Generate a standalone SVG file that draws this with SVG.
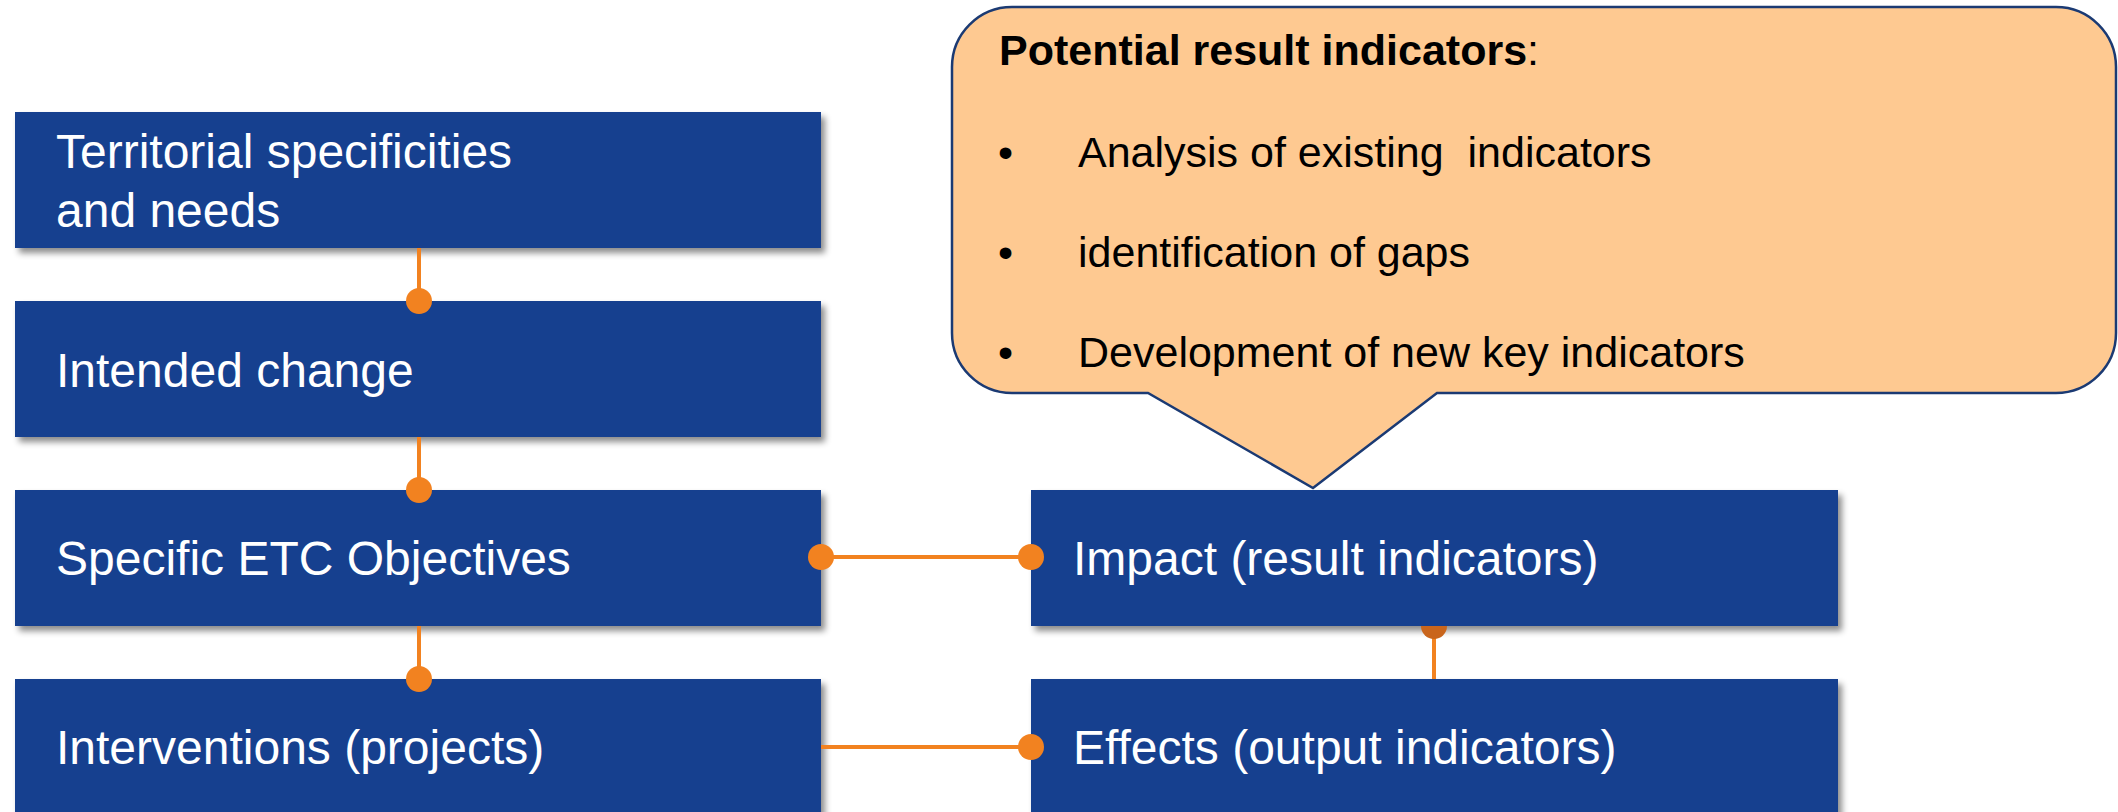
<svg xmlns="http://www.w3.org/2000/svg" width="2118" height="812" viewBox="0 0 2118 812">
  <defs>
    <filter id="shadow" x="-5%" y="-10%" width="115%" height="130%">
      <feDropShadow dx="4" dy="5" stdDeviation="3" flood-color="#000" flood-opacity="0.45"/>
    </filter>
    <style>
      .box { fill: #18408F; filter: url(#shadow); }
      .btxt { font-family: "Liberation Sans", Arial, sans-serif; font-size: 48px; fill: #FFFFFF; }
      .conn { stroke: #F28220; stroke-width: 4; fill: none; }
      .dot { fill: #F28220; }
      .ctxt { font-family: "Liberation Sans", Arial, sans-serif; font-size: 43px; fill: #000000; white-space: pre; }
      .callout { fill: #FEC991; stroke: #1B3A73; stroke-width: 2.5; }
    </style>
  </defs>
  <rect width="2118" height="812" fill="#FFFFFF"/>

  <g id="callout">
    <path class="callout" d="M 1012 7 H 2056 A 60 60 0 0 1 2116 67 V 333 A 60 60 0 0 1 2056 393 H 1437 L 1313 488 L 1148 393 H 1012 A 60 60 0 0 1 952 333 V 67 A 60 60 0 0 1 1012 7 Z"/>
    <text class="ctxt" x="999" y="65" font-size="41"><tspan font-weight="bold">Potential result indicators</tspan>:</text>
    <text class="ctxt" x="998" y="167" font-size="48">•</text>
    <text class="ctxt" x="1078" y="167">Analysis of existing  indicators</text>
    <text class="ctxt" x="998" y="267" font-size="48">•</text>
    <text class="ctxt" x="1078" y="267">identification of gaps</text>
    <text class="ctxt" x="998" y="367" font-size="48">•</text>
    <text class="ctxt" x="1078" y="367">Development of new key indicators</text>
  </g>

  <g id="territorial">
    <rect class="box" x="15" y="112" width="806" height="136"/>
    <text class="btxt" x="56" y="168">Territorial specificities</text>
    <text class="btxt" x="56" y="227">and needs</text>
  </g>
  <g id="intended">
    <rect class="box" x="15" y="301" width="806" height="136"/>
    <text class="btxt" x="56" y="387">Intended change</text>
  </g>
  <g id="objectives">
    <rect class="box" x="15" y="490" width="806" height="136"/>
    <text class="btxt" x="56" y="575">Specific ETC Objectives</text>
  </g>
  <g id="interventions">
    <rect class="box" x="15" y="679" width="806" height="136"/>
    <text class="btxt" x="56" y="764">Interventions (projects)</text>
  </g>
  <g id="impact">
    <rect class="box" x="1031" y="490" width="807" height="136"/>
    <text class="btxt" x="1073" y="575">Impact (result indicators)</text>
  </g>
  <g id="effects">
    <rect class="box" x="1031" y="679" width="807" height="136"/>
    <text class="btxt" x="1073" y="764">Effects (output indicators)</text>
  </g>

  <g id="connectors">
    <line class="conn" x1="419" y1="248" x2="419" y2="301"/>
    <circle class="dot" cx="419" cy="301" r="13"/>
    <line class="conn" x1="419" y1="437" x2="419" y2="490"/>
    <circle class="dot" cx="419" cy="490" r="13"/>
    <line class="conn" x1="419" y1="626" x2="419" y2="679"/>
    <circle class="dot" cx="419" cy="679" r="13"/>
    <line class="conn" x1="821" y1="557" x2="1031" y2="557"/>
    <circle class="dot" cx="821" cy="557" r="13"/>
    <circle class="dot" cx="1031" cy="557" r="13"/>
    <line class="conn" x1="821" y1="747" x2="1031" y2="747"/>
    <circle class="dot" cx="1031" cy="747" r="13"/>
    <line class="conn" x1="1434" y1="626" x2="1434" y2="679"/>
    <path d="M 1421 626 A 13 13 0 0 0 1447 626 Z" fill="#C9651C"/>
  </g>
</svg>
